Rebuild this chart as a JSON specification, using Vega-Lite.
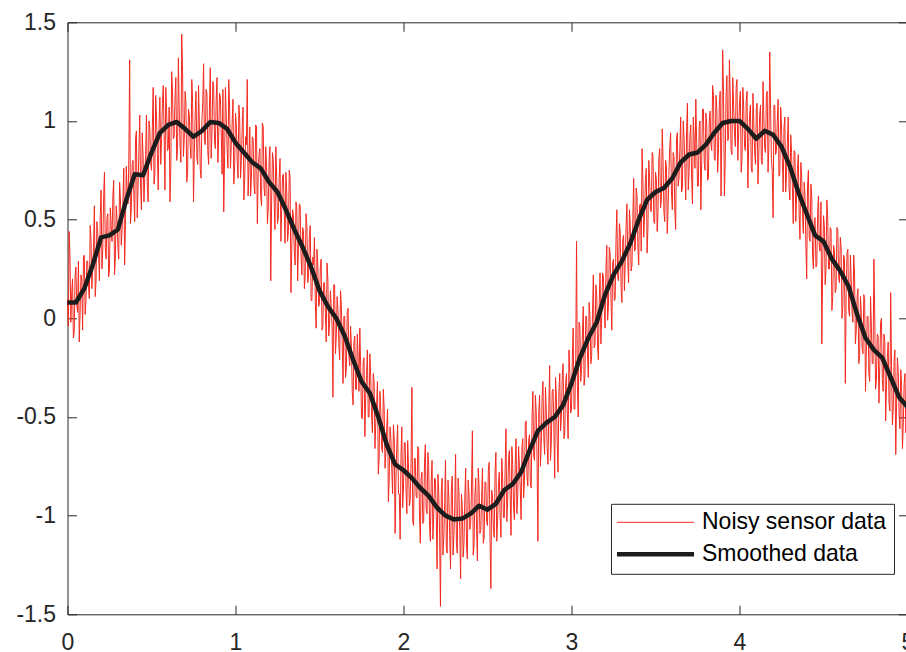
{
"$schema":"https://vega.github.io/schema/vega-lite/v6.json",
"width":840,"height":592,
"autosize":{"type":"none"},
"padding":{"left":67.5,"top":22.3,"right":0,"bottom":40},
"background":"#ffffff",
"config":{"view":{"stroke":null},
"axis":{"domainColor":"#262626","tickColor":"#262626","labelColor":"#262626","labelFont":"Liberation Sans","labelFontSize":23,"grid":false,"title":null,"tickSize":-9,"domainWidth":1,"tickWidth":1,"labelFlush":false,"labelOverlap":false}},
"datasets":{
"noisy":[
{"x":0.00,"y":0.10},{"x":0.01,"y":0.44},{"x":0.02,"y":-0.02},{"x":0.03,"y":0.20},{"x":0.04,"y":-0.07},{"x":0.05,"y":0.26},{"x":0.06,"y":0.03},{"x":0.07,"y":-0.12},{"x":0.08,"y":0.22},{"x":0.09,"y":-0.06},
{"x":0.10,"y":0.32},{"x":0.11,"y":0.09},{"x":0.12,"y":0.29},{"x":0.13,"y":0.10},{"x":0.14,"y":0.40},{"x":0.15,"y":0.25},{"x":0.16,"y":0.57},{"x":0.17,"y":0.19},{"x":0.18,"y":0.43},{"x":0.19,"y":0.19},
{"x":0.20,"y":0.65},{"x":0.21,"y":0.35},{"x":0.22,"y":0.74},{"x":0.23,"y":0.30},{"x":0.24,"y":0.53},{"x":0.25,"y":0.25},{"x":0.26,"y":0.47},{"x":0.27,"y":0.62},{"x":0.28,"y":0.22},{"x":0.29,"y":0.57},
{"x":0.30,"y":0.36},{"x":0.31,"y":0.69},{"x":0.32,"y":0.37},{"x":0.33,"y":0.60},{"x":0.34,"y":0.27},{"x":0.35,"y":0.77},{"x":0.36,"y":0.58},{"x":0.37,"y":1.31},{"x":0.38,"y":0.56},{"x":0.39,"y":0.80},
{"x":0.40,"y":0.49},{"x":0.41,"y":0.95},{"x":0.42,"y":0.66},{"x":0.43,"y":1.03},{"x":0.44,"y":0.55},{"x":0.45,"y":0.82},{"x":0.46,"y":0.72},{"x":0.47,"y":1.03},{"x":0.48,"y":0.59},{"x":0.49,"y":0.96},
{"x":0.50,"y":0.75},{"x":0.51,"y":1.17},{"x":0.52,"y":0.73},{"x":0.53,"y":1.02},{"x":0.54,"y":0.65},{"x":0.55,"y":1.12},{"x":0.56,"y":0.91},{"x":0.57,"y":1.18},{"x":0.58,"y":0.65},{"x":0.59,"y":1.05},
{"x":0.60,"y":0.86},{"x":0.61,"y":0.59},{"x":0.62,"y":1.25},{"x":0.63,"y":0.91},{"x":0.64,"y":1.13},{"x":0.65,"y":0.80},{"x":0.66,"y":1.32},{"x":0.67,"y":0.88},{"x":0.68,"y":1.44},{"x":0.69,"y":0.82},
{"x":0.70,"y":1.15},{"x":0.71,"y":0.69},{"x":0.72,"y":1.06},{"x":0.73,"y":0.88},{"x":0.74,"y":1.21},{"x":0.75,"y":0.59},{"x":0.76,"y":1.03},{"x":0.77,"y":0.81},{"x":0.78,"y":1.18},{"x":0.79,"y":0.76},
{"x":0.80,"y":1.00},{"x":0.81,"y":1.29},{"x":0.82,"y":0.88},{"x":0.83,"y":1.14},{"x":0.84,"y":0.78},{"x":0.85,"y":1.27},{"x":0.86,"y":0.94},{"x":0.87,"y":1.18},{"x":0.88,"y":0.86},{"x":0.89,"y":1.22},
{"x":0.90,"y":0.92},{"x":0.91,"y":1.12},{"x":0.92,"y":0.73},{"x":0.93,"y":0.54},{"x":0.94,"y":1.17},{"x":0.95,"y":0.86},{"x":0.96,"y":1.21},{"x":0.97,"y":0.76},{"x":0.98,"y":0.99},{"x":0.99,"y":0.68},
{"x":1.00,"y":1.04},{"x":1.01,"y":0.80},{"x":1.02,"y":1.08},{"x":1.03,"y":0.71},{"x":1.04,"y":0.97},{"x":1.05,"y":0.60},{"x":1.06,"y":0.92},{"x":1.07,"y":1.21},{"x":1.08,"y":0.77},{"x":1.09,"y":0.62},
{"x":1.10,"y":0.92},{"x":1.11,"y":0.68},{"x":1.12,"y":0.98},{"x":1.13,"y":0.48},{"x":1.14,"y":0.83},{"x":1.15,"y":0.62},{"x":1.16,"y":0.99},{"x":1.17,"y":0.66},{"x":1.18,"y":0.87},{"x":1.19,"y":0.48},
{"x":1.20,"y":0.80},{"x":1.21,"y":0.19},{"x":1.22,"y":0.84},{"x":1.23,"y":0.60},{"x":1.24,"y":0.87},{"x":1.25,"y":0.48},{"x":1.26,"y":0.71},{"x":1.27,"y":0.39},{"x":1.28,"y":0.72},{"x":1.29,"y":0.54},
{"x":1.30,"y":0.74},{"x":1.31,"y":0.39},{"x":1.32,"y":0.75},{"x":1.33,"y":0.13},{"x":1.34,"y":0.55},{"x":1.35,"y":0.34},{"x":1.36,"y":0.59},{"x":1.37,"y":0.19},{"x":1.38,"y":0.58},{"x":1.39,"y":0.32},
{"x":1.40,"y":0.46},{"x":1.41,"y":0.15},{"x":1.42,"y":0.53},{"x":1.43,"y":0.18},{"x":1.44,"y":0.42},{"x":1.45,"y":0.09},{"x":1.46,"y":0.31},{"x":1.47,"y":0.41},{"x":1.48,"y":-0.05},{"x":1.49,"y":0.27},
{"x":1.50,"y":0.08},{"x":1.51,"y":0.30},{"x":1.52,"y":-0.04},{"x":1.53,"y":0.18},{"x":1.54,"y":-0.12},{"x":1.55,"y":0.19},{"x":1.56,"y":-0.03},{"x":1.57,"y":0.06},{"x":1.58,"y":-0.40},{"x":1.59,"y":0.17},
{"x":1.60,"y":-0.09},{"x":1.61,"y":0.04},{"x":1.62,"y":-0.21},{"x":1.63,"y":0.07},{"x":1.64,"y":-0.33},{"x":1.65,"y":0.01},{"x":1.66,"y":-0.25},{"x":1.67,"y":0.05},{"x":1.68,"y":-0.24},{"x":1.69,"y":-0.14},
{"x":1.70,"y":-0.44},{"x":1.71,"y":-0.09},{"x":1.72,"y":-0.36},{"x":1.73,"y":-0.20},{"x":1.74,"y":-0.05},{"x":1.75,"y":-0.50},{"x":1.76,"y":-0.22},{"x":1.77,"y":-0.60},{"x":1.78,"y":-0.29},{"x":1.79,"y":-0.50},
{"x":1.80,"y":-0.18},{"x":1.81,"y":-0.49},{"x":1.82,"y":-0.28},{"x":1.83,"y":-0.66},{"x":1.84,"y":-0.44},{"x":1.85,"y":-0.79},{"x":1.86,"y":-0.37},{"x":1.87,"y":-0.66},{"x":1.88,"y":-0.36},{"x":1.89,"y":-0.76},
{"x":1.90,"y":-0.56},{"x":1.91,"y":-0.93},{"x":1.92,"y":-0.55},{"x":1.93,"y":-0.76},{"x":1.94,"y":-0.54},{"x":1.95,"y":-1.09},{"x":1.96,"y":-0.65},{"x":1.97,"y":-0.89},{"x":1.98,"y":-1.12},{"x":1.99,"y":-0.55},
{"x":2.00,"y":-0.85},{"x":2.01,"y":-0.63},{"x":2.02,"y":-0.99},{"x":2.03,"y":-0.76},{"x":2.04,"y":-0.92},{"x":2.05,"y":-0.35},{"x":2.06,"y":-1.05},{"x":2.07,"y":-0.71},{"x":2.08,"y":-0.91},{"x":2.09,"y":-0.66},
{"x":2.10,"y":-1.14},{"x":2.11,"y":-0.78},{"x":2.12,"y":-1.03},{"x":2.13,"y":-0.64},{"x":2.14,"y":-0.99},{"x":2.15,"y":-0.74},{"x":2.16,"y":-1.13},{"x":2.17,"y":-0.72},{"x":2.18,"y":-0.99},{"x":2.19,"y":-0.82},
{"x":2.20,"y":-1.27},{"x":2.21,"y":-0.89},{"x":2.22,"y":-1.46},{"x":2.23,"y":-0.81},{"x":2.24,"y":-1.11},{"x":2.25,"y":-0.72},{"x":2.26,"y":-1.19},{"x":2.27,"y":-0.91},{"x":2.28,"y":-1.27},{"x":2.29,"y":-0.80},
{"x":2.30,"y":-1.10},{"x":2.31,"y":-0.69},{"x":2.32,"y":-1.19},{"x":2.33,"y":-0.88},{"x":2.34,"y":-1.32},{"x":2.35,"y":-0.96},{"x":2.36,"y":-1.14},{"x":2.37,"y":-0.76},{"x":2.38,"y":-1.22},{"x":2.39,"y":-0.89},
{"x":2.40,"y":-1.04},{"x":2.41,"y":-0.57},{"x":2.42,"y":-1.15},{"x":2.43,"y":-0.81},{"x":2.44,"y":-1.23},{"x":2.45,"y":-0.86},{"x":2.46,"y":-1.07},{"x":2.47,"y":-0.76},{"x":2.48,"y":-1.11},{"x":2.49,"y":-0.83},
{"x":2.50,"y":-1.05},{"x":2.51,"y":-0.73},{"x":2.52,"y":-1.37},{"x":2.53,"y":-0.90},{"x":2.54,"y":-1.11},{"x":2.55,"y":-0.68},{"x":2.56,"y":-1.03},{"x":2.57,"y":-0.78},{"x":2.58,"y":-1.11},{"x":2.59,"y":-0.81},
{"x":2.60,"y":-1.01},{"x":2.61,"y":-0.56},{"x":2.62,"y":-0.92},{"x":2.63,"y":-0.67},{"x":2.64,"y":-1.10},{"x":2.65,"y":-0.74},{"x":2.66,"y":-1.02},{"x":2.67,"y":-0.61},{"x":2.68,"y":-0.90},{"x":2.69,"y":-0.75},
{"x":2.70,"y":-1.02},{"x":2.71,"y":-0.61},{"x":2.72,"y":-0.82},{"x":2.73,"y":-0.52},{"x":2.74,"y":-0.85},{"x":2.75,"y":-0.59},{"x":2.76,"y":-0.86},{"x":2.77,"y":-0.37},{"x":2.78,"y":-0.72},{"x":2.79,"y":-0.47},
{"x":2.80,"y":-1.13},{"x":2.81,"y":-0.39},{"x":2.82,"y":-0.64},{"x":2.83,"y":-0.32},{"x":2.84,"y":-0.69},{"x":2.85,"y":-0.47},{"x":2.86,"y":-0.74},{"x":2.87,"y":-0.24},{"x":2.88,"y":-0.63},{"x":2.89,"y":-0.36},
{"x":2.90,"y":-0.81},{"x":2.91,"y":-0.40},{"x":2.92,"y":-0.78},{"x":2.93,"y":-0.28},{"x":2.94,"y":-0.50},{"x":2.95,"y":-0.23},{"x":2.96,"y":-0.58},{"x":2.97,"y":-0.28},{"x":2.98,"y":-0.61},{"x":2.99,"y":-0.28},
{"x":3.00,"y":-0.46},{"x":3.01,"y":-0.05},{"x":3.02,"y":-0.46},{"x":3.03,"y":0.39},{"x":3.04,"y":-0.50},{"x":3.05,"y":-0.04},{"x":3.06,"y":-0.26},{"x":3.07,"y":0.06},{"x":3.08,"y":-0.29},{"x":3.09,"y":0.01},
{"x":3.10,"y":-0.30},{"x":3.11,"y":0.01},{"x":3.12,"y":-0.19},{"x":3.13,"y":0.22},{"x":3.14,"y":-0.13},{"x":3.15,"y":0.12},{"x":3.16,"y":-0.21},{"x":3.17,"y":0.23},{"x":3.18,"y":0.01},{"x":3.19,"y":0.21},
{"x":3.20,"y":-0.05},{"x":3.21,"y":0.37},{"x":3.22,"y":0.06},{"x":3.23,"y":0.33},{"x":3.24,"y":-0.06},{"x":3.25,"y":0.30},{"x":3.26,"y":0.10},{"x":3.27,"y":0.55},{"x":3.28,"y":0.19},{"x":3.29,"y":0.44},
{"x":3.30,"y":0.08},{"x":3.31,"y":0.42},{"x":3.32,"y":0.29},{"x":3.33,"y":0.58},{"x":3.34,"y":0.18},{"x":3.35,"y":0.47},{"x":3.36,"y":0.27},{"x":3.37,"y":0.71},{"x":3.38,"y":0.35},{"x":3.39,"y":0.62},
{"x":3.40,"y":0.27},{"x":3.41,"y":0.58},{"x":3.42,"y":0.86},{"x":3.43,"y":0.41},{"x":3.44,"y":0.70},{"x":3.45,"y":0.33},{"x":3.46,"y":0.80},{"x":3.47,"y":0.55},{"x":3.48,"y":0.84},{"x":3.49,"y":0.49},
{"x":3.50,"y":0.74},{"x":3.51,"y":0.44},{"x":3.52,"y":0.81},{"x":3.53,"y":0.56},{"x":3.54,"y":0.96},{"x":3.55,"y":0.54},{"x":3.56,"y":0.80},{"x":3.57,"y":0.43},{"x":3.58,"y":0.74},{"x":3.59,"y":0.94},
{"x":3.60,"y":0.55},{"x":3.61,"y":0.82},{"x":3.62,"y":0.45},{"x":3.63,"y":0.94},{"x":3.64,"y":0.71},{"x":3.65,"y":1.02},{"x":3.66,"y":0.66},{"x":3.67,"y":0.92},{"x":3.68,"y":0.60},{"x":3.69,"y":1.09},
{"x":3.70,"y":0.74},{"x":3.71,"y":0.98},{"x":3.72,"y":0.58},{"x":3.73,"y":0.91},{"x":3.74,"y":1.11},{"x":3.75,"y":0.67},{"x":3.76,"y":0.97},{"x":3.77,"y":0.55},{"x":3.78,"y":1.06},{"x":3.79,"y":0.79},
{"x":3.80,"y":1.04},{"x":3.81,"y":0.70},{"x":3.82,"y":1.00},{"x":3.83,"y":0.88},{"x":3.84,"y":1.18},{"x":3.85,"y":0.81},{"x":3.86,"y":1.13},{"x":3.87,"y":0.74},{"x":3.88,"y":1.08},{"x":3.89,"y":0.62},
{"x":3.90,"y":1.36},{"x":3.91,"y":0.62},{"x":3.92,"y":1.13},{"x":3.93,"y":0.90},{"x":3.94,"y":1.31},{"x":3.95,"y":0.85},{"x":3.96,"y":1.22},{"x":3.97,"y":0.94},{"x":3.98,"y":1.17},{"x":3.99,"y":0.80},
{"x":4.00,"y":1.09},{"x":4.01,"y":0.74},{"x":4.02,"y":1.17},{"x":4.03,"y":0.87},{"x":4.04,"y":1.10},{"x":4.05,"y":0.66},{"x":4.06,"y":1.03},{"x":4.07,"y":0.77},{"x":4.08,"y":1.14},{"x":4.09,"y":0.85},
{"x":4.10,"y":1.06},{"x":4.11,"y":0.68},{"x":4.12,"y":1.03},{"x":4.13,"y":0.80},{"x":4.14,"y":1.20},{"x":4.15,"y":0.86},{"x":4.16,"y":1.13},{"x":4.17,"y":0.74},{"x":4.18,"y":1.35},{"x":4.19,"y":0.81},
{"x":4.20,"y":0.51},{"x":4.21,"y":1.08},{"x":4.22,"y":0.85},{"x":4.23,"y":1.11},{"x":4.24,"y":0.73},{"x":4.25,"y":0.98},{"x":4.26,"y":0.64},{"x":4.27,"y":1.02},{"x":4.28,"y":0.73},{"x":4.29,"y":1.02},
{"x":4.30,"y":0.60},{"x":4.31,"y":0.84},{"x":4.32,"y":0.48},{"x":4.33,"y":0.84},{"x":4.34,"y":0.62},{"x":4.35,"y":0.83},{"x":4.36,"y":0.40},{"x":4.37,"y":0.72},{"x":4.38,"y":0.43},{"x":4.39,"y":0.62},
{"x":4.40,"y":0.20},{"x":4.41,"y":0.75},{"x":4.42,"y":0.39},{"x":4.43,"y":0.62},{"x":4.44,"y":0.25},{"x":4.45,"y":0.51},{"x":4.46,"y":0.27},{"x":4.47,"y":0.62},{"x":4.48,"y":0.34},{"x":4.49,"y":-0.13},
{"x":4.50,"y":0.52},{"x":4.51,"y":0.17},{"x":4.52,"y":0.60},{"x":4.53,"y":0.25},{"x":4.54,"y":0.46},{"x":4.55,"y":0.04},{"x":4.56,"y":0.37},{"x":4.57,"y":0.13},{"x":4.58,"y":0.46},{"x":4.59,"y":0.21},
{"x":4.60,"y":0.41},{"x":4.61,"y":0.00},{"x":4.62,"y":0.32},{"x":4.63,"y":-0.33},{"x":4.64,"y":0.33},{"x":4.65,"y":0.04},{"x":4.66,"y":0.32},{"x":4.67,"y":0.03},{"x":4.68,"y":0.32},{"x":4.69,"y":-0.13},
{"x":4.70,"y":0.11},{"x":4.71,"y":-0.23},{"x":4.72,"y":0.11},{"x":4.73,"y":-0.15},{"x":4.74,"y":0.12},{"x":4.75,"y":-0.37},{"x":4.76,"y":0.01},{"x":4.77,"y":-0.28},{"x":4.78,"y":0.11},{"x":4.79,"y":-0.23},
{"x":4.80,"y":0.30},{"x":4.81,"y":-0.36},{"x":4.82,"y":-0.08},{"x":4.83,"y":-0.43},{"x":4.84,"y":-0.02},{"x":4.85,"y":-0.31},{"x":4.86,"y":-0.08},{"x":4.87,"y":-0.52},{"x":4.88,"y":-0.20},{"x":4.89,"y":-0.43},
{"x":4.90,"y":0.13},{"x":4.91,"y":-0.54},{"x":4.92,"y":-0.22},{"x":4.93,"y":-0.69},{"x":4.94,"y":-0.20},{"x":4.95,"y":-0.49},{"x":4.96,"y":-0.26},{"x":4.97,"y":-0.66},{"x":4.98,"y":-0.33},{"x":4.99,"y":-0.58},
{"x":5.00,"y":-0.40},
{"x":0.005,"y":-0.04},{"x":0.015,"y":0.30},{"x":0.025,"y":0.13},{"x":0.035,"y":-0.10},{"x":0.045,"y":0.21},{"x":0.055,"y":0.07},{"x":0.065,"y":0.29},{"x":0.075,"y":0.03},{"x":0.085,"y":0.19},{"x":0.095,"y":0.31},
{"x":0.105,"y":0.02},{"x":0.115,"y":0.29},{"x":0.125,"y":0.16},{"x":0.135,"y":0.47},{"x":0.145,"y":0.15},{"x":0.155,"y":0.36},{"x":0.165,"y":0.11},{"x":0.175,"y":0.49},{"x":0.185,"y":0.34},{"x":0.195,"y":0.52},
{"x":0.205,"y":0.25},{"x":0.215,"y":0.61},{"x":0.225,"y":0.35},{"x":0.235,"y":0.51},{"x":0.245,"y":0.21},{"x":0.255,"y":0.56},{"x":0.265,"y":0.39},{"x":0.275,"y":0.70},{"x":0.285,"y":0.31},{"x":0.295,"y":0.50},
{"x":0.305,"y":0.30},{"x":0.315,"y":0.61},{"x":0.325,"y":0.45},{"x":0.335,"y":0.76},{"x":0.345,"y":0.47},{"x":0.355,"y":0.64},{"x":0.365,"y":0.80},{"x":0.375,"y":0.48},{"x":0.385,"y":0.78},{"x":0.395,"y":0.62},
{"x":0.405,"y":0.91},{"x":0.415,"y":0.51},{"x":0.425,"y":0.85},{"x":0.435,"y":0.67},{"x":0.445,"y":0.94},{"x":0.455,"y":0.59},{"x":0.465,"y":0.83},{"x":0.475,"y":0.67},{"x":0.485,"y":1.00},{"x":0.495,"y":0.79},
{"x":0.505,"y":0.97},{"x":0.515,"y":0.68},{"x":0.525,"y":1.13},{"x":0.535,"y":0.83},{"x":0.545,"y":0.98},{"x":0.555,"y":0.78},{"x":0.565,"y":1.09},{"x":0.575,"y":0.93},{"x":0.585,"y":1.17},{"x":0.595,"y":0.85},
{"x":0.605,"y":1.07},{"x":0.615,"y":0.77},{"x":0.625,"y":1.15},{"x":0.635,"y":0.92},{"x":0.645,"y":1.22},{"x":0.655,"y":0.85},{"x":0.665,"y":1.05},{"x":0.675,"y":0.79},{"x":0.685,"y":1.25},{"x":0.695,"y":0.91},
{"x":0.705,"y":1.09},{"x":0.715,"y":0.74},{"x":0.725,"y":1.03},{"x":0.735,"y":0.81},{"x":0.745,"y":1.09},{"x":0.755,"y":0.84},{"x":0.765,"y":1.15},{"x":0.775,"y":0.78},{"x":0.785,"y":0.99},{"x":0.795,"y":0.71},
{"x":0.805,"y":1.09},{"x":0.815,"y":0.90},{"x":0.825,"y":1.16},{"x":0.835,"y":0.85},{"x":0.845,"y":1.07},{"x":0.855,"y":0.81},{"x":0.865,"y":1.20},{"x":0.875,"y":0.90},{"x":0.885,"y":1.11},{"x":0.895,"y":0.79},
{"x":0.905,"y":1.14},{"x":0.915,"y":0.94},{"x":0.925,"y":1.16},{"x":0.935,"y":0.82},{"x":0.945,"y":1.03},{"x":0.955,"y":0.76},{"x":0.965,"y":1.07},{"x":0.975,"y":0.88},{"x":0.985,"y":1.11},{"x":0.995,"y":0.78},
{"x":1.005,"y":0.98},{"x":1.015,"y":0.71},{"x":1.025,"y":1.01},{"x":1.035,"y":0.80},{"x":1.045,"y":1.07},{"x":1.055,"y":0.71},{"x":1.065,"y":0.88},{"x":1.075,"y":0.62},{"x":1.085,"y":0.97},{"x":1.095,"y":0.72},
{"x":1.105,"y":0.91},{"x":1.115,"y":0.63},{"x":1.125,"y":0.97},{"x":1.135,"y":0.73},{"x":1.145,"y":0.86},{"x":1.155,"y":0.57},{"x":1.165,"y":0.97},{"x":1.175,"y":0.62},{"x":1.185,"y":0.77},{"x":1.195,"y":0.56},
{"x":1.205,"y":0.87},{"x":1.215,"y":0.59},{"x":1.225,"y":0.80},{"x":1.235,"y":0.45},{"x":1.245,"y":0.72},{"x":1.255,"y":0.51},{"x":1.265,"y":0.81},{"x":1.275,"y":0.55},{"x":1.285,"y":0.73},{"x":1.295,"y":0.38},
{"x":1.305,"y":0.64},{"x":1.315,"y":0.44},{"x":1.325,"y":0.71},{"x":1.335,"y":0.35},{"x":1.345,"y":0.52},{"x":1.355,"y":0.27},{"x":1.365,"y":0.56},{"x":1.375,"y":0.37},{"x":1.385,"y":0.57},{"x":1.395,"y":0.22},
{"x":1.405,"y":0.44},{"x":1.415,"y":0.22},{"x":1.425,"y":0.47},{"x":1.435,"y":0.22},{"x":1.445,"y":0.47},{"x":1.455,"y":0.09},{"x":1.465,"y":0.27},{"x":1.475,"y":0.08},{"x":1.485,"y":0.35},{"x":1.495,"y":0.06},
{"x":1.505,"y":0.26},{"x":1.515,"y":-0.06},{"x":1.525,"y":0.18},{"x":1.535,"y":0.03},{"x":1.545,"y":0.28},{"x":1.555,"y":-0.09},{"x":1.565,"y":0.14},{"x":1.575,"y":-0.04},{"x":1.585,"y":0.17},{"x":1.595,"y":-0.18},
{"x":1.605,"y":0.11},{"x":1.615,"y":-0.13},{"x":1.625,"y":0.14},{"x":1.635,"y":-0.12},{"x":1.645,"y":0.01},{"x":1.655,"y":-0.30},{"x":1.665,"y":0.03},{"x":1.675,"y":-0.19},{"x":1.685,"y":-0.04},{"x":1.695,"y":-0.37},
{"x":1.705,"y":-0.12},{"x":1.715,"y":-0.36},{"x":1.725,"y":-0.08},{"x":1.735,"y":-0.37},{"x":1.745,"y":-0.25},{"x":1.755,"y":-0.51},{"x":1.765,"y":-0.20},{"x":1.775,"y":-0.40},{"x":1.785,"y":-0.16},{"x":1.795,"y":-0.50},
{"x":1.805,"y":-0.30},{"x":1.815,"y":-0.58},{"x":1.825,"y":-0.32},{"x":1.835,"y":-0.53},{"x":1.845,"y":-0.32},{"x":1.855,"y":-0.71},{"x":1.865,"y":-0.48},{"x":1.875,"y":-0.68},{"x":1.885,"y":-0.46},{"x":1.895,"y":-0.68},
{"x":1.905,"y":-0.46},{"x":1.915,"y":-0.81},{"x":1.925,"y":-0.61},{"x":1.935,"y":-0.89},{"x":1.945,"y":-0.61},{"x":1.955,"y":-0.81},{"x":1.965,"y":-0.54},{"x":1.975,"y":-0.89},{"x":1.985,"y":-0.70},{"x":1.995,"y":-0.96},
{"x":2.005,"y":-0.63},{"x":2.015,"y":-0.87},{"x":2.025,"y":-0.62},{"x":2.035,"y":-0.95},{"x":2.045,"y":-0.73},{"x":2.055,"y":-1.03},{"x":2.065,"y":-0.71},{"x":2.075,"y":-0.90},{"x":2.085,"y":-0.65},{"x":2.095,"y":-0.98},
{"x":2.105,"y":-0.81},{"x":2.115,"y":-1.04},{"x":2.125,"y":-0.73},{"x":2.135,"y":-0.97},{"x":2.145,"y":-0.68},{"x":2.155,"y":-1.05},{"x":2.165,"y":-0.83},{"x":2.175,"y":-1.12},{"x":2.185,"y":-0.81},{"x":2.195,"y":-1.00},
{"x":2.205,"y":-0.79},{"x":2.215,"y":-1.10},{"x":2.225,"y":-0.88},{"x":2.235,"y":-1.20},{"x":2.245,"y":-0.94},{"x":2.255,"y":-1.16},{"x":2.265,"y":-0.82},{"x":2.275,"y":-1.10},{"x":2.285,"y":-0.87},{"x":2.295,"y":-1.20},
{"x":2.305,"y":-0.95},{"x":2.315,"y":-1.14},{"x":2.325,"y":-0.81},{"x":2.335,"y":-1.08},{"x":2.345,"y":-0.89},{"x":2.355,"y":-1.21},{"x":2.365,"y":-0.91},{"x":2.375,"y":-1.15},{"x":2.385,"y":-0.82},{"x":2.395,"y":-1.07},
{"x":2.405,"y":-0.85},{"x":2.415,"y":-1.20},{"x":2.425,"y":-0.90},{"x":2.435,"y":-1.07},{"x":2.445,"y":-0.76},{"x":2.455,"y":-1.09},{"x":2.465,"y":-0.91},{"x":2.475,"y":-1.14},{"x":2.485,"y":-0.83},{"x":2.495,"y":-1.03},
{"x":2.505,"y":-0.77},{"x":2.515,"y":-1.11},{"x":2.525,"y":-0.87},{"x":2.535,"y":-1.07},{"x":2.545,"y":-0.78},{"x":2.555,"y":-1.13},{"x":2.565,"y":-0.85},{"x":2.575,"y":-1.00},{"x":2.585,"y":-0.71},{"x":2.595,"y":-1.01},
{"x":2.605,"y":-0.76},{"x":2.615,"y":-1.03},{"x":2.625,"y":-0.72},{"x":2.635,"y":-0.90},{"x":2.645,"y":-0.65},{"x":2.655,"y":-0.95},{"x":2.665,"y":-0.74},{"x":2.675,"y":-0.99},{"x":2.685,"y":-0.65},{"x":2.695,"y":-0.86},
{"x":2.705,"y":-0.65},{"x":2.715,"y":-0.91},{"x":2.725,"y":-0.53},{"x":2.735,"y":-0.80},{"x":2.745,"y":-0.62},{"x":2.755,"y":-0.83},{"x":2.765,"y":-0.51},{"x":2.775,"y":-0.70},{"x":2.785,"y":-0.39},{"x":2.795,"y":-0.72},
{"x":2.805,"y":-0.48},{"x":2.815,"y":-0.75},{"x":2.825,"y":-0.40},{"x":2.835,"y":-0.60},{"x":2.845,"y":-0.35},{"x":2.855,"y":-0.65},{"x":2.865,"y":-0.45},{"x":2.875,"y":-0.72},{"x":2.885,"y":-0.37},{"x":2.895,"y":-0.55},
{"x":2.905,"y":-0.30},{"x":2.915,"y":-0.63},{"x":2.925,"y":-0.37},{"x":2.935,"y":-0.57},{"x":2.945,"y":-0.29},{"x":2.955,"y":-0.61},{"x":2.965,"y":-0.33},{"x":2.975,"y":-0.48},{"x":2.985,"y":-0.16},{"x":2.995,"y":-0.48},
{"x":3.005,"y":-0.20},{"x":3.015,"y":-0.46},{"x":3.025,"y":-0.21},{"x":3.035,"y":-0.34},{"x":3.045,"y":-0.02},{"x":3.055,"y":-0.32},{"x":3.065,"y":-0.08},{"x":3.075,"y":-0.34},{"x":3.085,"y":0.01},{"x":3.095,"y":-0.17},
{"x":3.105,"y":0.08},{"x":3.115,"y":-0.23},{"x":3.125,"y":0.02},{"x":3.135,"y":-0.15},{"x":3.145,"y":0.17},{"x":3.155,"y":-0.14},{"x":3.165,"y":0.08},{"x":3.175,"y":-0.13},{"x":3.185,"y":0.23},{"x":3.195,"y":0.04},
{"x":3.205,"y":0.25},{"x":3.215,"y":-0.01},{"x":3.225,"y":0.36},{"x":3.235,"y":0.10},{"x":3.245,"y":0.28},{"x":3.255,"y":0.09},{"x":3.265,"y":0.40},{"x":3.275,"y":0.21},{"x":3.285,"y":0.48},{"x":3.295,"y":0.16},
{"x":3.305,"y":0.40},{"x":3.315,"y":0.14},{"x":3.325,"y":0.47},{"x":3.335,"y":0.29},{"x":3.345,"y":0.55},{"x":3.355,"y":0.24},{"x":3.365,"y":0.50},{"x":3.375,"y":0.34},{"x":3.385,"y":0.66},{"x":3.395,"y":0.36},
{"x":3.405,"y":0.57},{"x":3.415,"y":0.34},{"x":3.425,"y":0.70},{"x":3.435,"y":0.53},{"x":3.445,"y":0.76},{"x":3.455,"y":0.46},{"x":3.465,"y":0.71},{"x":3.475,"y":0.54},{"x":3.485,"y":0.82},{"x":3.495,"y":0.48},
{"x":3.505,"y":0.71},{"x":3.515,"y":0.54},{"x":3.525,"y":0.86},{"x":3.535,"y":0.60},{"x":3.545,"y":0.80},{"x":3.555,"y":0.49},{"x":3.565,"y":0.77},{"x":3.575,"y":0.56},{"x":3.585,"y":0.87},{"x":3.595,"y":0.64},
{"x":3.605,"y":0.84},{"x":3.615,"y":0.54},{"x":3.625,"y":0.91},{"x":3.635,"y":0.67},{"x":3.645,"y":0.86},{"x":3.655,"y":0.64},{"x":3.665,"y":1.00},{"x":3.675,"y":0.75},{"x":3.685,"y":0.95},{"x":3.695,"y":0.65},
{"x":3.705,"y":0.93},{"x":3.715,"y":0.71},{"x":3.725,"y":1.02},{"x":3.735,"y":0.76},{"x":3.745,"y":0.89},{"x":3.755,"y":0.67},{"x":3.765,"y":1.00},{"x":3.775,"y":0.80},{"x":3.785,"y":1.06},{"x":3.795,"y":0.75},
{"x":3.805,"y":0.98},{"x":3.815,"y":0.71},{"x":3.825,"y":1.05},{"x":3.835,"y":0.85},{"x":3.845,"y":1.13},{"x":3.855,"y":0.80},{"x":3.865,"y":1.06},{"x":3.875,"y":0.86},{"x":3.885,"y":1.15},{"x":3.895,"y":0.94},
{"x":3.905,"y":1.13},{"x":3.915,"y":0.79},{"x":3.925,"y":1.23},{"x":3.935,"y":0.91},{"x":3.945,"y":1.12},{"x":3.955,"y":0.83},{"x":3.965,"y":1.08},{"x":3.975,"y":0.87},{"x":3.985,"y":1.21},{"x":3.995,"y":0.94},
{"x":4.005,"y":1.15},{"x":4.015,"y":0.81},{"x":4.025,"y":1.07},{"x":4.035,"y":0.85},{"x":4.045,"y":1.15},{"x":4.055,"y":0.89},{"x":4.065,"y":1.08},{"x":4.075,"y":0.74},{"x":4.085,"y":0.99},{"x":4.095,"y":0.78},
{"x":4.105,"y":1.09},{"x":4.115,"y":0.83},{"x":4.125,"y":1.08},{"x":4.135,"y":0.78},{"x":4.145,"y":1.02},{"x":4.155,"y":0.84},{"x":4.165,"y":1.15},{"x":4.175,"y":0.88},{"x":4.185,"y":1.06},{"x":4.195,"y":0.74},
{"x":4.205,"y":1.08},{"x":4.215,"y":0.83},{"x":4.225,"y":1.00},{"x":4.235,"y":0.72},{"x":4.245,"y":1.07},{"x":4.255,"y":0.81},{"x":4.265,"y":0.97},{"x":4.275,"y":0.64},{"x":4.285,"y":0.89},{"x":4.295,"y":0.66},
{"x":4.305,"y":0.93},{"x":4.315,"y":0.66},{"x":4.325,"y":0.85},{"x":4.335,"y":0.49},{"x":4.345,"y":0.76},{"x":4.355,"y":0.53},{"x":4.365,"y":0.79},{"x":4.375,"y":0.53},{"x":4.385,"y":0.69},{"x":4.395,"y":0.37},
{"x":4.405,"y":0.67},{"x":4.415,"y":0.41},{"x":4.425,"y":0.68},{"x":4.435,"y":0.32},{"x":4.445,"y":0.50},{"x":4.455,"y":0.26},{"x":4.465,"y":0.53},{"x":4.475,"y":0.36},{"x":4.485,"y":0.59},{"x":4.495,"y":0.25},
{"x":4.505,"y":0.47},{"x":4.515,"y":0.25},{"x":4.525,"y":0.52},{"x":4.535,"y":0.25},{"x":4.545,"y":0.45},{"x":4.555,"y":0.11},{"x":4.565,"y":0.34},{"x":4.575,"y":0.15},{"x":4.585,"y":0.45},{"x":4.595,"y":0.18},
{"x":4.605,"y":0.36},{"x":4.615,"y":0.06},{"x":4.625,"y":0.30},{"x":4.635,"y":0.13},{"x":4.645,"y":0.35},{"x":4.655,"y":0.01},{"x":4.665,"y":0.20},{"x":4.675,"y":-0.02},{"x":4.685,"y":0.22},{"x":4.695,"y":-0.06},
{"x":4.705,"y":0.15},{"x":4.715,"y":-0.19},{"x":4.725,"y":0.03},{"x":4.735,"y":-0.18},{"x":4.745,"y":0.10},{"x":4.755,"y":-0.17},{"x":4.765,"y":0.01},{"x":4.775,"y":-0.32},{"x":4.785,"y":-0.04},{"x":4.795,"y":-0.23},
{"x":4.805,"y":0.01},{"x":4.815,"y":-0.31},{"x":4.825,"y":-0.09},{"x":4.835,"y":-0.24},{"x":4.845,"y":0.00},{"x":4.855,"y":-0.37},{"x":4.865,"y":-0.12},{"x":4.875,"y":-0.34},{"x":4.885,"y":-0.12},{"x":4.895,"y":-0.47},
{"x":4.905,"y":-0.24},{"x":4.915,"y":-0.46},{"x":4.925,"y":-0.16},{"x":4.935,"y":-0.43},{"x":4.945,"y":-0.27},{"x":4.955,"y":-0.56},{"x":4.965,"y":-0.34},{"x":4.975,"y":-0.53},{"x":4.985,"y":-0.28},{"x":4.995,"y":-0.52}
],
"smooth":[
{"x":0.00,"y":0.08},{"x":0.05,"y":0.08},{"x":0.10,"y":0.15},{"x":0.15,"y":0.27},{"x":0.20,"y":0.41},{"x":0.25,"y":0.42},{"x":0.30,"y":0.45},{"x":0.35,"y":0.60},{"x":0.40,"y":0.73},{"x":0.45,"y":0.725},
{"x":0.50,"y":0.84},{"x":0.55,"y":0.94},{"x":0.60,"y":0.98},{"x":0.65,"y":0.995},{"x":0.70,"y":0.96},{"x":0.75,"y":0.92},{"x":0.80,"y":0.95},{"x":0.85,"y":0.995},{"x":0.90,"y":0.99},{"x":0.95,"y":0.96},
{"x":1.00,"y":0.89},{"x":1.05,"y":0.84},{"x":1.10,"y":0.79},{"x":1.15,"y":0.76},{"x":1.20,"y":0.69},{"x":1.25,"y":0.64},{"x":1.30,"y":0.55},{"x":1.35,"y":0.45},{"x":1.40,"y":0.36},{"x":1.45,"y":0.26},
{"x":1.50,"y":0.14},{"x":1.55,"y":0.06},{"x":1.60,"y":0.00},{"x":1.65,"y":-0.09},{"x":1.70,"y":-0.21},{"x":1.75,"y":-0.32},{"x":1.80,"y":-0.38},{"x":1.85,"y":-0.50},{"x":1.90,"y":-0.64},{"x":1.95,"y":-0.74},
{"x":2.00,"y":-0.77},{"x":2.05,"y":-0.81},{"x":2.10,"y":-0.86},{"x":2.15,"y":-0.90},{"x":2.20,"y":-0.96},{"x":2.25,"y":-1.00},{"x":2.30,"y":-1.02},{"x":2.35,"y":-1.015},{"x":2.40,"y":-0.99},{"x":2.45,"y":-0.95},
{"x":2.50,"y":-0.97},{"x":2.55,"y":-0.94},{"x":2.60,"y":-0.87},{"x":2.65,"y":-0.84},{"x":2.70,"y":-0.78},{"x":2.75,"y":-0.67},{"x":2.80,"y":-0.57},{"x":2.85,"y":-0.53},{"x":2.90,"y":-0.50},{"x":2.95,"y":-0.44},
{"x":3.00,"y":-0.33},{"x":3.05,"y":-0.20},{"x":3.10,"y":-0.10},{"x":3.15,"y":-0.02},{"x":3.20,"y":0.12},{"x":3.25,"y":0.22},{"x":3.30,"y":0.29},{"x":3.35,"y":0.38},{"x":3.40,"y":0.50},{"x":3.45,"y":0.60},
{"x":3.50,"y":0.64},{"x":3.55,"y":0.66},{"x":3.60,"y":0.71},{"x":3.65,"y":0.79},{"x":3.70,"y":0.83},{"x":3.75,"y":0.84},{"x":3.80,"y":0.88},{"x":3.85,"y":0.94},{"x":3.90,"y":0.99},{"x":3.95,"y":1.00},
{"x":4.00,"y":1.00},{"x":4.05,"y":0.96},{"x":4.10,"y":0.91},{"x":4.15,"y":0.95},{"x":4.20,"y":0.93},{"x":4.25,"y":0.87},{"x":4.30,"y":0.77},{"x":4.35,"y":0.64},{"x":4.40,"y":0.53},{"x":4.45,"y":0.42},
{"x":4.50,"y":0.39},{"x":4.55,"y":0.30},{"x":4.60,"y":0.24},{"x":4.65,"y":0.16},{"x":4.70,"y":0.02},{"x":4.75,"y":-0.10},{"x":4.80,"y":-0.16},{"x":4.85,"y":-0.20},{"x":4.90,"y":-0.30},{"x":4.95,"y":-0.40},
{"x":5.00,"y":-0.45}
]},
"layer":[
{"data":{"name":"noisy"},
"mark":{"type":"line","strokeWidth":1,"interpolate":"linear"},
"encoding":{
"x":{"field":"x","type":"quantitative","scale":{"domain":[0,5],"nice":false,"zero":false},"axis":{"orient":"bottom","values":[0,1,2,3,4,5],"format":"~g","labelPadding":26}},
"y":{"field":"y","type":"quantitative","scale":{"domain":[-1.5,1.5],"nice":false,"zero":false},"axis":{"orient":"left","values":[-1.5,-1,-0.5,0,0.5,1,1.5],"format":"~g","labelPadding":21,"labelExpr":"replace(datum.label, '\u2212', '-')"}},
"color":{"datum":"Noisy sensor data","type":"nominal","scale":{"domain":["Noisy sensor data","Smoothed data"],"range":["#f2291f","#1c1c1c"]},
"legend":{"orient":"none","legendX":543.5,"legendY":481.5,"title":null,"symbolType":"M-3.35,0H3.35","symbolSize":529,"symbolOffset":26,"labelOffset":35,"labelLimit":400,"labelFont":"Liberation Sans","labelFontSize":23,"labelColor":"#000000","padding":7,"rowPadding":8,"strokeColor":"#262626","fillColor":"#ffffff",
"encode":{"symbols":{"update":{"strokeWidth":{"signal":"datum.value === 'Smoothed data' ? 4.5 : 1"}}}}}}
}},
{"data":{"name":"smooth"},
"mark":{"type":"line","strokeWidth":4.5,"strokeJoin":"round","interpolate":"linear"},
"encoding":{
"x":{"field":"x","type":"quantitative","axis":{"orient":"top","values":[0,1,2,3,4,5],"labels":false}},
"y":{"field":"y","type":"quantitative","axis":{"orient":"right","values":[-1.5,-1,-0.5,0,0.5,1,1.5],"labels":false}},
"color":{"datum":"Smoothed data","type":"nominal"}
}}
]
}
